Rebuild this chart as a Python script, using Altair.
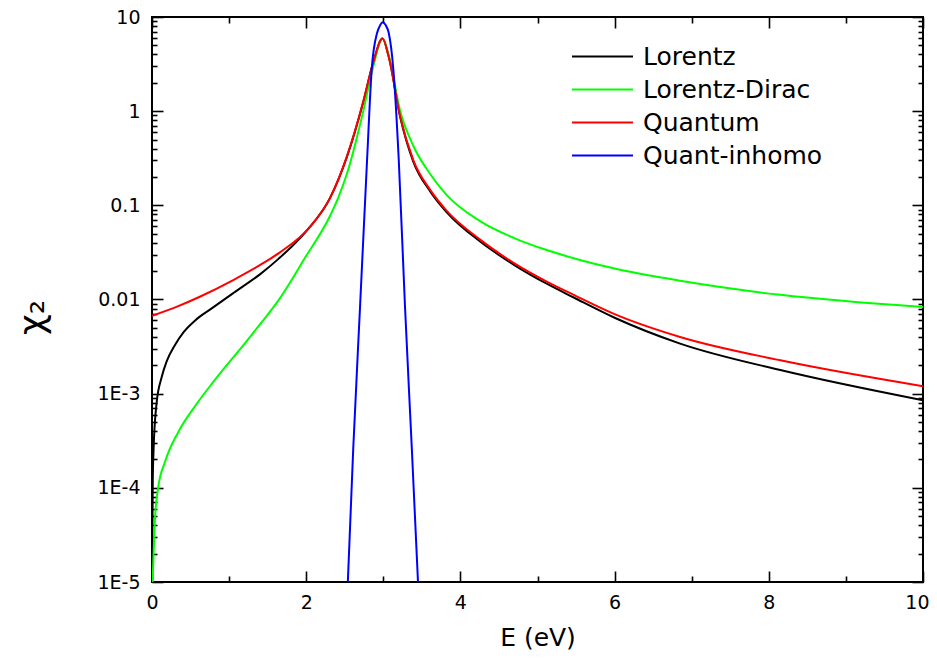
import altair as alt
import pandas as pd

series_names = ["Lorentz", "Lorentz-Dirac", "Quantum", "Quant-inhomo"]
series_colors = ["#000000", "#00ff00", "#ff0000", "#0000ff"]

lor_x = [0.001, 0.01, 0.02, 0.06, 0.126, 0.19, 0.3, 0.41, 0.56, 0.77, 1.06, 1.40, 1.64, 1.99, 2.31,
         2.53, 2.74, 2.87, 2.99, 3.07, 3.22, 3.39, 3.61, 3.82, 4.26, 4.69, 5.12, 5.47, 6.0, 6.85,
         8.15, 10]
lor_y = [1e-5, 1.2e-4, 2.5e-4, 8e-4, 1.5e-3, 2.2e-3, 3.3e-3, 4.5e-3, 6.0e-3, 8.0e-3, 0.0118, 0.0185,
         0.027, 0.052, 0.12, 0.33, 1.25, 3.3, 5.9, 3.8, 0.86, 0.29, 0.14, 0.085, 0.041, 0.0235,
         0.0147, 0.0105, 6.4e-3, 3.4e-3, 1.78e-3, 8.5e-4]

ld_x = [0.008, 0.04, 0.08, 0.17, 0.34, 0.56, 0.80, 1.21, 1.40, 1.64, 1.99, 2.31, 2.42, 2.53, 2.74,
        2.87, 2.99, 3.07, 3.22, 3.39, 3.61, 3.82, 4.26, 4.69, 5.12, 5.55, 6.0, 6.85, 8.15, 10]
ld_y = [1e-5, 4.9e-5, 1.0e-4, 1.9e-4, 3.9e-4, 7.4e-4, 1.35e-3, 3.47e-3, 5.43e-3, 9.8e-3, 0.0282,
        0.0776, 0.123, 0.219, 1.0, 3.0, 5.9, 3.9, 1.0, 0.427, 0.214, 0.129, 0.0676, 0.0452,
        0.0335, 0.0263, 0.0213, 0.0158, 0.0112, 0.0083]

qu_x = [0, 0.34, 0.62, 1.06, 1.40, 1.64, 2.07, 2.31, 2.53, 2.74, 2.87, 2.99, 3.07, 3.22, 3.39, 3.61,
        3.82, 4.26, 4.69, 5.12, 5.47, 6.0, 6.85, 8.15, 10]
qu_y = [6.7e-3, 8.5e-3, 0.0107, 0.0162, 0.0232, 0.0309, 0.0618, 0.12, 0.335, 1.26, 3.3, 5.9, 3.8,
        0.87, 0.30, 0.145, 0.088, 0.043, 0.0245, 0.0155, 0.0112, 7.0e-3, 4.0e-3, 2.26e-3, 1.2e-3]

qi_x = [2.54, 2.61, 2.70, 2.79, 2.85, 2.92, 2.96, 2.99, 3.03, 3.07, 3.13, 3.20, 3.28, 3.37, 3.45]
qi_y = [1e-5, 2.6e-4, 8.9e-3, 0.31, 2.8, 6.8, 8.2, 8.8, 8.2, 6.8, 2.8, 0.31, 8.9e-3, 2.6e-4, 1e-5]

x_major = [0, 2, 4, 6, 8, 10]
x_all = list(range(0, 11))
y_major = [1e-5, 1e-4, 1e-3, 0.01, 0.1, 1, 10]
y_all = [k * 10.0 ** d for d in range(-5, 1) for k in range(1, 10)] + [10]

rows = []
for name, xs, ys in [("Lorentz", lor_x, lor_y), ("Lorentz-Dirac", ld_x, ld_y),
                     ("Quantum", qu_x, qu_y), ("Quant-inhomo", qi_x, qi_y)]:
    for i, (x, y) in enumerate(zip(xs, ys)):
        rows.append({"series": name, "E": x, "chi": y, "i": i})
df = pd.DataFrame(rows)

W, H = 771, 565
FONT = "DejaVu Sans"
xscale = alt.Scale(domain=[0, 10], nice=False, zero=False)
yscale = alt.Scale(type="log", domain=[1e-5, 10], nice=False)

ylab = ("datum.value >= 5 ? '10' : datum.value >= 0.5 ? '1' : datum.value >= 0.05 ? '0.1' : "
        "datum.value >= 0.005 ? '0.01' : datum.value >= 5e-4 ? '1E-3' : datum.value >= 5e-5 ? '1E-4' : '1E-5'")
is_minor_x = "datum.value % 2 == 1"
is_minor_y = "abs(log(datum.value)/LN10 - round(log(datum.value)/LN10)) > 0.001"

xtick_size = {"condition": {"test": is_minor_x, "value": 6}, "value": 11}
ytick_size = {"condition": {"test": is_minor_y, "value": 5}, "value": 11}

def tick_axis(orient, vals, size, offset):
    return alt.Axis(orient=orient, values=vals, offset=offset, labels=False, domain=False,
                    grid=False, ticks=True, tickSize=size, tickColor="black", tickWidth=1.6,
                    title=None)

base = alt.Chart(df)

lines = base.mark_line(strokeWidth=2, interpolate="monotone", clip=True).encode(
    x=alt.X("E:Q", scale=xscale,
            axis=alt.Axis(orient="bottom", values=x_major, format="d", ticks=False, domain=False,
                          grid=False, labelFont=FONT, labelFontSize=19, labelPadding=11,
                          labelFlush=True, labelFlushOffset=6, labelColor="black",
                          title="E (eV)", titleFont=FONT, titleFontSize=25,
                          titleFontWeight="normal", titleColor="black", titlePadding=13)),
    y=alt.Y("chi:Q", scale=yscale,
            axis=alt.Axis(orient="left", values=y_major, labelExpr=ylab, ticks=False, domain=False,
                          grid=False, labelFont=FONT, labelFontSize=19, labelPadding=12,
                          labelFlush=False, labelColor="black", title="χ₂", titleFont=FONT,
                          titleFontSize=36, titleFontWeight="normal", titleColor="black",
                          titleX=-120, titleY=300, titleAlign="center", titleBaseline="middle",
                          titleAngle=270)),
    color=alt.Color("series:N", scale=alt.Scale(domain=series_names, range=series_colors),
                    legend=alt.Legend(title=None, orient="none", legendX=434, legendY=23,
                                      symbolType="M-2,0H2", symbolSize=930, symbolStrokeWidth=2,
                                      labelFont=FONT, labelFontSize=25, labelColor="black",
                                      labelOffset=24, labelLimit=400, rowPadding=3)),
    order="i:Q",
)

ticks_a = base.mark_line(strokeOpacity=0).encode(
    x=alt.X("E:Q", scale=xscale, axis=tick_axis("top", x_all, xtick_size, -H)),
    y=alt.Y("chi:Q", scale=yscale, axis=tick_axis("right", y_all, ytick_size, -W)),
)
ticks_b = base.mark_line(strokeOpacity=0).encode(
    x=alt.X("E:Q", scale=xscale, axis=tick_axis("bottom", x_all, xtick_size, -H)),
    y=alt.Y("chi:Q", scale=yscale, axis=tick_axis("left", y_all, ytick_size, -W)),
)

chart = alt.layer(lines, ticks_a, ticks_b).resolve_axis(
    x="independent", y="independent"
).properties(
    width=W, height=H, autosize="none",
    padding={"left": 144, "top": 9, "right": 6, "bottom": 69},
).configure_view(stroke="black", strokeWidth=2)

chart.save("out.html", embed_options={"renderer": "svg", "actions": False})
